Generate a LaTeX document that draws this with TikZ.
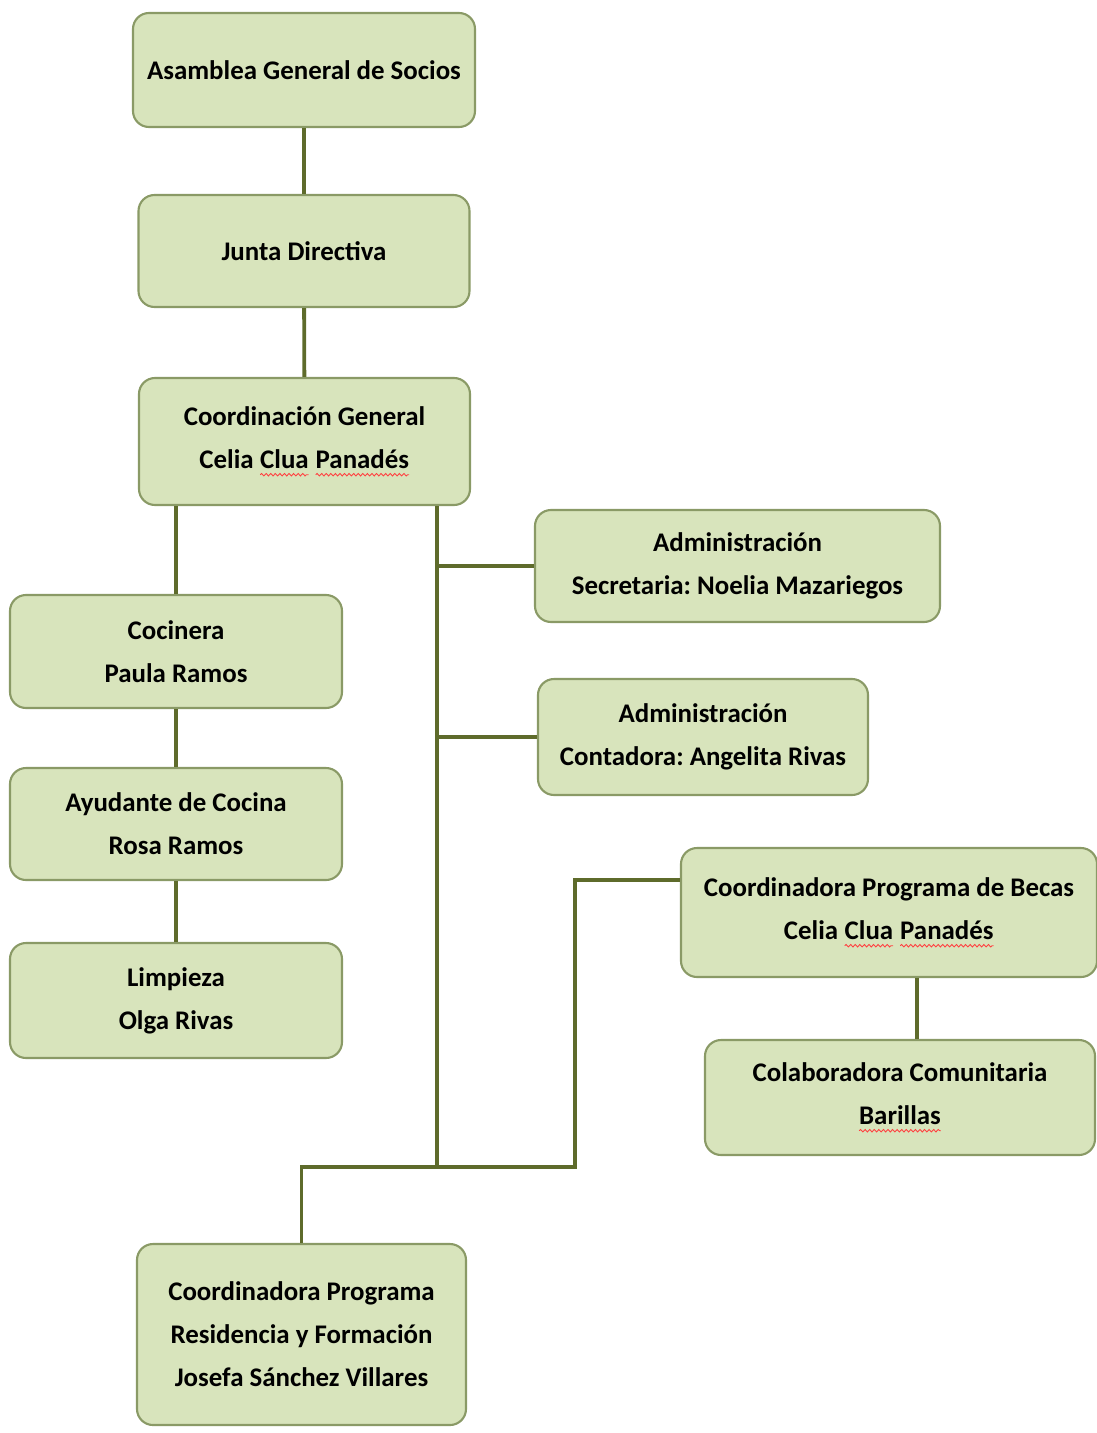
\documentclass[tikz,border=0pt]{standalone}
\usepackage{fontspec}
\setmainfont{Carlito}
\usepackage{xcolor}
\usepackage{tikz}
\usetikzlibrary{positioning,calc,decorations.pathmorphing}
\frenchspacing

\definecolor{boxfill}{HTML}{D8E4BC}
\definecolor{boxline}{HTML}{8A9A66}
\definecolor{linkcol}{HTML}{5E6B2B}

\tikzset{
  orgbox/.style={draw=boxline,line width=1.2pt,fill=boxfill,rounded corners=0.32cm,
    align=center,inner sep=2pt,font=\fontsize{15.3}{24.5}\selectfont\bfseries},
  link/.style={draw=linkcol,line width=2.2pt}
}
% red spelling wave under a word
\newcommand{\squig}[1]{\tikz[baseline=(w.base)]{\node[inner sep=0pt,outer sep=0pt,draw=none,fill=none,
    minimum width=0pt,minimum height=0pt,sharp corners,align=left] (w) {#1};
  \draw[red!75,line width=0.5pt,sharp corners,decorate,decoration={snake,amplitude=0.7pt,segment length=2.6pt}]
    ([yshift=-3.5pt]w.base west) -- ([yshift=-3.5pt]w.base east);}}

\begin{document}
\begin{tikzpicture}
\useasboundingbox (0,0) rectangle (21.94,-28.66);
\node[orgbox,minimum width=6.84cm,minimum height=2.28cm] (asam) at (6.08,-1.40) {Asamblea General de Socios};
\node[orgbox,minimum width=6.62cm,minimum height=2.24cm] (junta) at (6.08,-5.02) {Junta Directiva};
\node[orgbox,minimum width=6.62cm,minimum height=2.54cm] (coord) at (6.09,-8.83) {Coordinación General\\Celia \squig{Clua} \squig{Panadés}};
\node[orgbox,minimum width=6.64cm,minimum height=2.26cm] (cocin) at (3.52,-13.03) {Cocinera\\Paula Ramos};
\node[orgbox,minimum width=6.64cm,minimum height=2.24cm] (ayud) at (3.52,-16.48) {Ayudante de Cocina\\Rosa Ramos};
\node[orgbox,minimum width=6.64cm,minimum height=2.30cm] (limp) at (3.52,-20.01) {Limpieza\\Olga Rivas};
\node[orgbox,minimum width=8.10cm,minimum height=2.24cm] (adsec) at (14.75,-11.32) {Administración\\Secretaria: Noelia Mazariegos};
\node[orgbox,minimum width=6.60cm,minimum height=2.32cm] (adcon) at (14.06,-14.74) {Administración\\Contadora: Angelita Rivas};
\node[orgbox,minimum width=8.32cm,minimum height=2.58cm] (becas) at (17.78,-18.25) {Coordinadora Programa de Becas\\Celia \squig{Clua} \squig{Panadés}};
\node[orgbox,minimum width=7.80cm,minimum height=2.30cm] (colab) at (18.00,-21.95) {Colaboradora Comunitaria\\\squig{Barillas}};
\node[orgbox,minimum width=6.58cm,minimum height=3.62cm] (resid) at (6.03,-26.69) {Coordinadora Programa\\Residencia y Formación\\Josefa Sánchez Villares};

\coordinate (trunktop) at (8.74,0 |- coord.south);
\coordinate (trunkend) at (8.74,-23.34);
\coordinate (bkturn) at (11.50,-17.60);
\coordinate (cbdrop) at (18.34,0 |- becas.south);

\draw[link] (asam) -- (junta);
\draw[link] (junta) -- (coord);
\draw[link] (cocin.north |- coord.south) -- (cocin.north);
\draw[link] (cocin) -- (ayud);
\draw[link] (ayud) -- (limp);
\draw[link] (trunktop) -- (trunkend);
\draw[link] (trunktop |- adsec.west) -- (adsec.west);
\draw[link] (trunktop |- adcon.west) -- (adcon.west);
\draw[link] (trunkend) -| (bkturn) -- (bkturn -| becas.west);
\draw[link] (trunkend) -| (resid.north);
\draw[link] (cbdrop) -- (cbdrop |- colab.north);
\end{tikzpicture}
\end{document}
